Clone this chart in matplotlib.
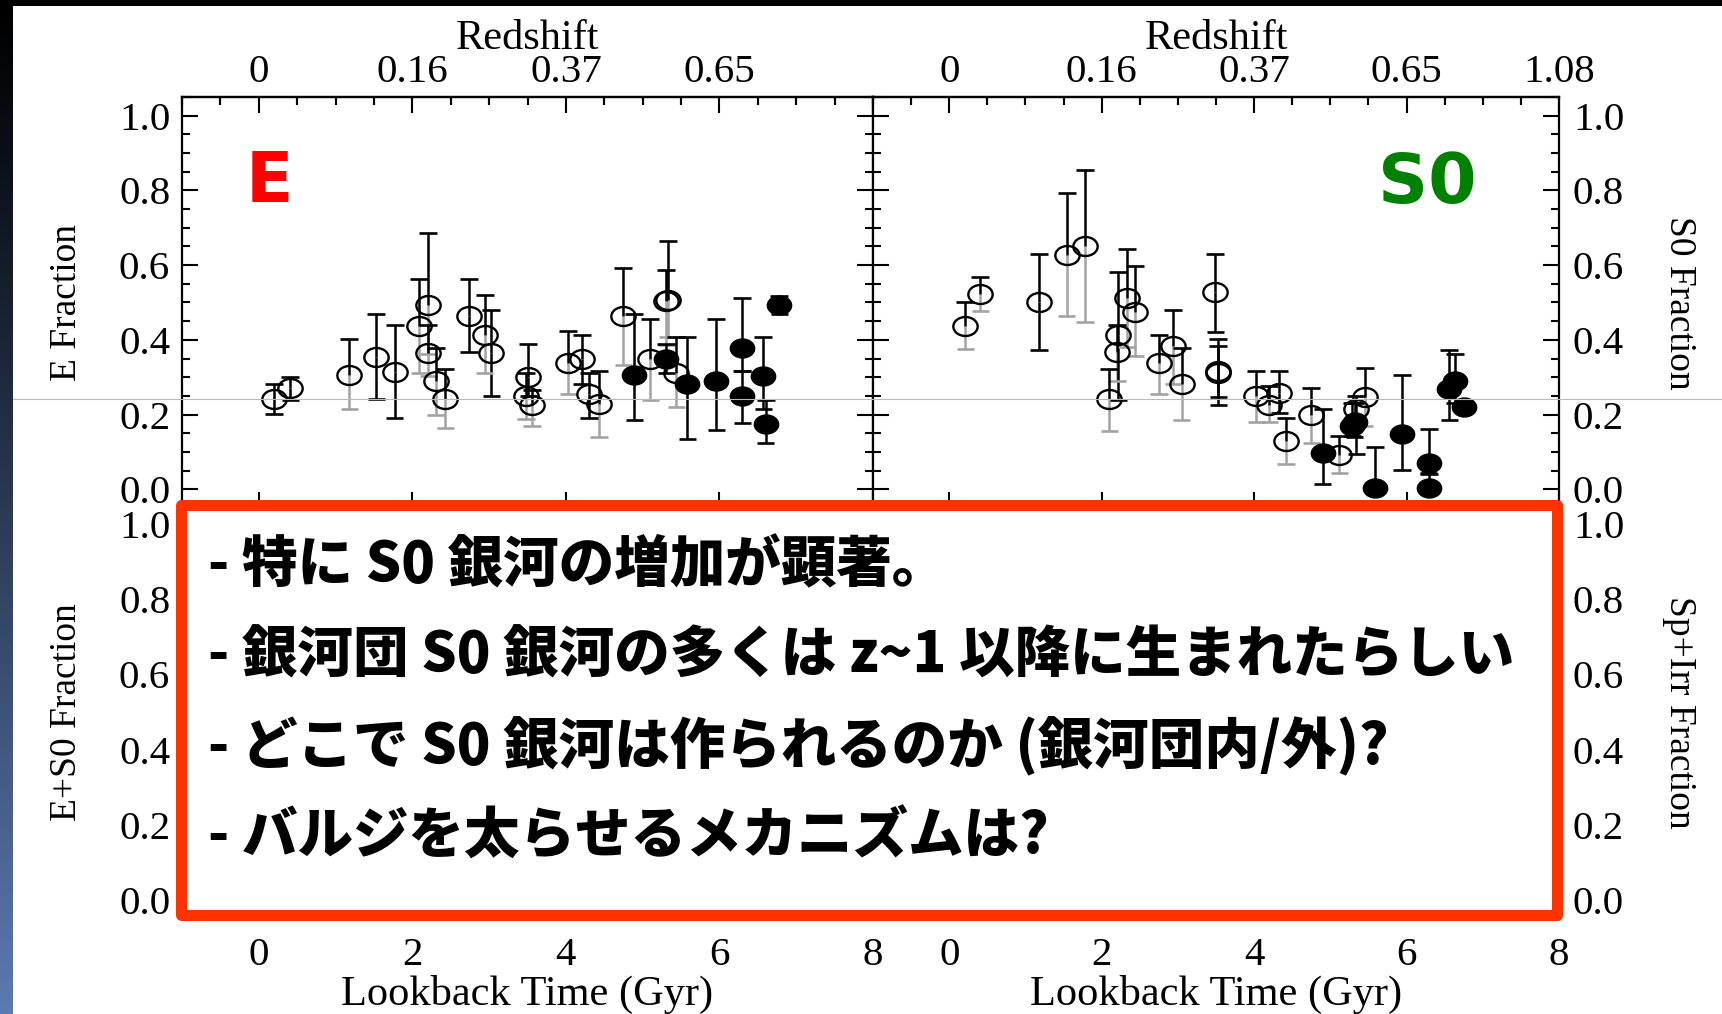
import numpy as np
import matplotlib
matplotlib.use("Agg")
import matplotlib.pyplot as plt
from matplotlib.path import Path
from matplotlib.patches import Rectangle
from matplotlib.lines import Line2D
from matplotlib.ticker import FixedLocator, MultipleLocator

W, H, DPI = 1722, 1014, 100

# ---------------- data ----------------
lookback_ticks = [0, 2, 4, 6, 8]
lookback_labels = ["0", "2", "4", "6", "8"]
redshift_labels = ["0", "0.16", "0.37", "0.65", "1.08"]
fraction_ticks = [0.0, 0.2, 0.4, 0.6, 0.8, 1.0]
fraction_labels = ["0.0", "0.2", "0.4", "0.6", "0.8", "1.0"]

# Elliptical fraction vs lookback time (Gyr)
e_time = [0.20, 0.41, 1.18, 1.53, 1.77, 2.09, 2.21, 2.21, 2.31, 2.43, 2.74, 2.94,
          3.03, 3.51, 3.48, 3.56, 4.03, 4.21, 4.30, 4.43, 4.75, 4.89, 5.10, 5.33,
          5.31, 5.31, 5.44, 5.58, 5.96, 6.30, 6.30, 6.57, 6.60, 6.78]
e_frac = [0.243, 0.270, 0.307, 0.354, 0.315, 0.438, 0.492, 0.364, 0.290, 0.243, 0.465, 0.414,
          0.364, 0.301, 0.250, 0.225, 0.339, 0.350, 0.254, 0.229, 0.463, 0.306, 0.348, 0.508,
          0.505, 0.349, 0.312, 0.283, 0.291, 0.379, 0.250, 0.303, 0.174, 0.492]
e_err_hi = [0.040, 0.030, 0.094, 0.115, 0.125, 0.125, 0.194, 0.076, 0.089, 0.080, 0.098, 0.105,
            0.115, 0.089, 0.060, 0.040, 0.084, 0.062, 0.058, 0.089, 0.128, 0.162, 0.109, 0.156,
            0.081, 0.039, 0.095, 0.124, 0.166, 0.133, 0.068, 0.105, 0.065, 0.025]
e_err_lo = [0.041, 0.030, 0.091, 0.113, 0.125, 0.126, 0.130, 0.060, 0.090, 0.078, 0.097, 0.104,
            0.114, 0.050, 0.063, 0.055, 0.085, 0.067, 0.064, 0.089, 0.129, 0.121, 0.110, 0.100,
            0.120, 0.037, 0.091, 0.147, 0.133, 0.061, 0.072, 0.089, 0.049, 0.022]
e_filled = [0, 0, 0, 0, 0, 0, 0, 0, 0, 0, 0, 0,
            0, 0, 0, 0, 0, 0, 0, 0, 0, 1, 0, 0,
            0, 1, 0, 1, 1, 1, 1, 1, 1, 1]
e_lo_gray = [0, 0, 1, 0, 0, 1, 1, 1, 1, 1, 0, 1,
             0, 0, 1, 1, 1, 0, 0, 1, 1, 0, 1, 1,
             1, 0, 1, 0, 0, 0, 0, 0, 0, 0]

# S0 fraction vs lookback time (Gyr)
s0_time = [0.21, 0.41, 1.18, 1.54, 1.78, 2.10, 2.20, 2.22, 2.33, 2.44, 2.75, 2.94,
           3.05, 3.49, 3.53, 3.53, 4.03, 4.20, 4.33, 4.42, 4.75, 4.90, 5.12, 5.29,
           5.32, 5.34, 5.45, 5.58, 5.94, 6.29, 6.29, 6.56, 6.63, 6.76]
s0_frac = [0.437, 0.524, 0.501, 0.628, 0.650, 0.242, 0.367, 0.412, 0.512, 0.475, 0.337, 0.383,
           0.281, 0.528, 0.316, 0.310, 0.250, 0.227, 0.259, 0.129, 0.199, 0.098, 0.091, 0.169,
           0.180, 0.214, 0.248, 0.004, 0.149, 0.070, 0.004, 0.269, 0.291, 0.221]
s0_err_hi = [0.065, 0.045, 0.129, 0.165, 0.204, 0.081, 0.074, 0.169, 0.130, 0.122, 0.076, 0.096,
             0.098, 0.102, 0.087, 0.074, 0.068, 0.050, 0.059, 0.063, 0.073, 0.116, 0.053, 0.063,
             0.050, 0.036, 0.077, 0.109, 0.156, 0.092, 0.036, 0.103, 0.072, 0.012]
s0_err_lo = [0.061, 0.047, 0.129, 0.163, 0.203, 0.086, 0.077, 0.172, 0.130, 0.119, 0.081, 0.100,
             0.096, 0.107, 0.091, 0.063, 0.070, 0.047, 0.054, 0.062, 0.074, 0.085, 0.048, 0.026,
             0.040, 0.120, 0.078, 0.000, 0.097, 0.027, 0.000, 0.084, 0.061, 0.012]
s0_filled = [0, 0, 0, 0, 0, 0, 0, 0, 0, 0, 0, 0,
             0, 0, 0, 0, 0, 0, 0, 0, 0, 1, 0, 1,
             1, 0, 0, 1, 1, 1, 1, 1, 1, 1]
s0_lo_gray = [1, 1, 0, 1, 1, 1, 1, 0, 1, 1, 1, 1,
              1, 0, 0, 0, 1, 1, 0, 1, 1, 0, 1, 0,
              0, 0, 1, 0, 0, 0, 0, 0, 0, 0]

notes = [
    "- 特に S0 銀河の増加が顕著。",
    "- 銀河団 S0 銀河の多くは z~1 以降に生まれたらしい",
    "- どこで S0 銀河は作られるのか (銀河団内/外)?",
    "- バルジを太らせるメカニズムは?",
]

# ---------------- style ----------------
SERIF = ["Liberation Serif", "DejaVu Serif"]
plt.rcParams["font.family"] = SERIF
FS_TICK = 29.5      # tick labels
FS_XLAB = 30.5      # horizontal axis titles
FS_YLAB = 27        # rotated axis titles
GRAY = "#a3a3a3"
circle = Path.unit_circle()
ELLIPSE = Path(circle.vertices * np.array([1.0, 0.78]), circle.codes)


def px(x, y):
    """Figure-pixel position (origin top-left) to figure fraction."""
    return x / W, 1 - y / H


def axes_rect(x0, y0, x1, y1):
    return [x0 / W, 1 - y1 / H, (x1 - x0) / W, (y1 - y0) / H]


fig = plt.figure(figsize=(W / DPI, H / DPI), dpi=DPI)
fig.patch.set_facecolor("white")

ax_e = fig.add_axes(axes_rect(182, 97, 873, 508))
ax_s0 = fig.add_axes(axes_rect(873, 97, 1559, 508))
ax_es0 = fig.add_axes(axes_rect(182, 505, 873, 919))
ax_sp = fig.add_axes(axes_rect(873, 505, 1559, 919))


def setup(ax, side, bottom_labels):
    ax.set_xlim(-1, 8)
    ax.set_ylim(-0.05, 1.05)
    ax.xaxis.set_major_locator(FixedLocator(lookback_ticks))
    ax.xaxis.set_minor_locator(MultipleLocator(0.5))
    ax.yaxis.set_major_locator(FixedLocator(fraction_ticks))
    ax.yaxis.set_minor_locator(MultipleLocator(0.05))
    ax.set_yticklabels(fraction_labels)
    ax.set_xticklabels(lookback_labels)
    for sp in ax.spines.values():
        sp.set_linewidth(1.6)
    ax.tick_params(which="both", direction="in", left=True, right=True,
                   bottom=True, top=True, width=1.5, labelsize=FS_TICK, color="k")
    ax.tick_params(which="major", length=11.5)
    ax.tick_params(which="minor", length=5.5)
    ax.tick_params(axis="x", labelbottom=bottom_labels, pad=10)
    if side == "left":
        ax.tick_params(axis="y", labelleft=True, labelright=False, pad=8.5)
    else:
        ax.tick_params(axis="y", labelleft=False, labelright=True, pad=10)


def redshift_axis(ax, labels):
    sec = ax.secondary_xaxis("top")
    sec.xaxis.set_major_locator(FixedLocator(lookback_ticks))
    sec.xaxis.set_minor_locator(MultipleLocator(0.5))
    sec.set_xticklabels(labels)
    sec.tick_params(which="both", direction="in", width=1.5, labelsize=FS_TICK, pad=4)
    sec.tick_params(which="major", length=11.5)
    sec.tick_params(which="minor", length=5.5)
    sec.spines["top"].set_linewidth(1.6)
    sec.set_xlabel("Redshift", fontsize=FS_XLAB)
    sec.xaxis.set_label_coords(0.5, (508 - 39) / 411, transform=ax.transAxes)
    sec.xaxis.label.set_va("center")
    return sec


def draw_points(ax, t, f, hi, lo, filled, lo_gray):
    t = np.asarray(t, float)
    f = np.asarray(f, float)
    hi = np.asarray(hi, float)
    lo = np.asarray(lo, float)
    filled = np.asarray(filled, bool)
    lo_cols = [GRAY if g else "k" for g in lo_gray]
    ax.vlines(t, f - lo, f, colors=lo_cols, lw=1.8, zorder=1.5)
    ax.vlines(t, f, f + hi, colors="k", lw=1.8, zorder=2)
    ax.scatter(t, f - lo, marker="_", s=12.5 ** 2, linewidths=1.9, c=lo_cols, zorder=1.6)
    ax.plot(t, f + hi, ls="none", marker="_", ms=12.5, mew=1.9, color="k", zorder=2.1)
    op = ~filled
    ax.plot(t[op], f[op], ls="none", marker=ELLIPSE, ms=17.5, mfc="none",
            mec="k", mew=1.7, zorder=3)
    ax.plot(t[filled], f[filled], ls="none", marker=ELLIPSE, ms=17.5, mfc="k",
            mec="k", mew=1.0, zorder=3)


# top row
setup(ax_e, "left", False)
setup(ax_s0, "right", False)
ax_e.tick_params(axis="x", top=False)
ax_s0.tick_params(axis="x", top=False)
redshift_axis(ax_e, redshift_labels[:4] + [""])
redshift_axis(ax_s0, redshift_labels)
draw_points(ax_e, e_time, e_frac, e_err_hi, e_err_lo, e_filled, e_lo_gray)
draw_points(ax_s0, s0_time, s0_frac, s0_err_hi, s0_err_lo, s0_filled, s0_lo_gray)

# bottom row
setup(ax_es0, "left", True)
setup(ax_sp, "right", True)
for ax in (ax_es0, ax_sp):
    ax.tick_params(axis="x", pad=13)
    ax.set_xlabel("Lookback Time (Gyr)", fontsize=FS_XLAB)
    ax.xaxis.set_label_coords(0.5, (919 - 994) / 414)
    ax.xaxis.label.set_va("center")

# y labels
ylabel_kw = dict(fontsize=FS_YLAB, va="center", ha="center")
ax_e.set_ylabel("E Fraction", **ylabel_kw)
ax_e.yaxis.set_label_coords((67 - 182) / 691, 0.5)
ax_es0.set_ylabel("E+S0 Fraction", **ylabel_kw)
ax_es0.yaxis.set_label_coords((67 - 182) / 691, 0.5)
for ax, lab in ((ax_s0, "S0 Fraction"), (ax_sp, "Sp+Irr Fraction")):
    ax.yaxis.set_label_position("right")
    ax.set_ylabel(lab, rotation=270, **ylabel_kw)
    ax.yaxis.set_label_coords((1679 - 873) / 686, 0.5)

# panel tags
fig.text(*px(246, 182), "E", color="#ff0000", fontsize=50, fontweight="bold",
         family="DejaVu Sans", ha="left", va="center")
fig.text(*px(1378, 183), "S0", color="#008000", fontsize=50, fontweight="bold",
         family="DejaVu Sans", ha="left", va="center")

# thin guide line across the slide
fig.add_artist(Line2D([0, 1], [1 - 399 / H] * 2, transform=fig.transFigure,
                      color="#b9b9b9", lw=0.8, zorder=4))

# highlighted note box
x0, y0, x1, y1 = 180.5, 505.5, 1556.5, 914.5
box = Rectangle(px(x0, y1), (x1 - x0) / W, (y1 - y0) / H, transform=fig.transFigure,
                facecolor="white", edgecolor="#ff3300", lw=11 * 72 / DPI,
                joinstyle="round", zorder=5)
fig.add_artist(box)
for i, line in enumerate(notes):
    fig.text(*px(208, 566 + 90.5 * i), line, fontsize=40, fontweight=900,
             family=["Noto Sans CJK JP", "DejaVu Sans"], ha="left", va="center",
             color="black", zorder=6)

# slide frame: dark top band and gradient strip on the left
fig.add_artist(Rectangle((0, 1 - 6 / H), 1, 6 / H, transform=fig.transFigure,
                         facecolor="black", edgecolor="none", zorder=10))
strip = fig.add_axes([0, 0, 13 / W, 1], zorder=10)
grad = np.linspace(0, 1, 256)[:, None]
top_c = np.array([0.0, 0.0, 0.0])
bot_c = np.array([0.36, 0.48, 0.70])
img = top_c + (bot_c - top_c) * grad[..., None] ** 1.1
strip.imshow(img, aspect="auto", extent=[0, 1, 0, 1], origin="upper")
strip.set_axis_off()

fig.savefig("out.png", dpi=DPI, facecolor="white")
